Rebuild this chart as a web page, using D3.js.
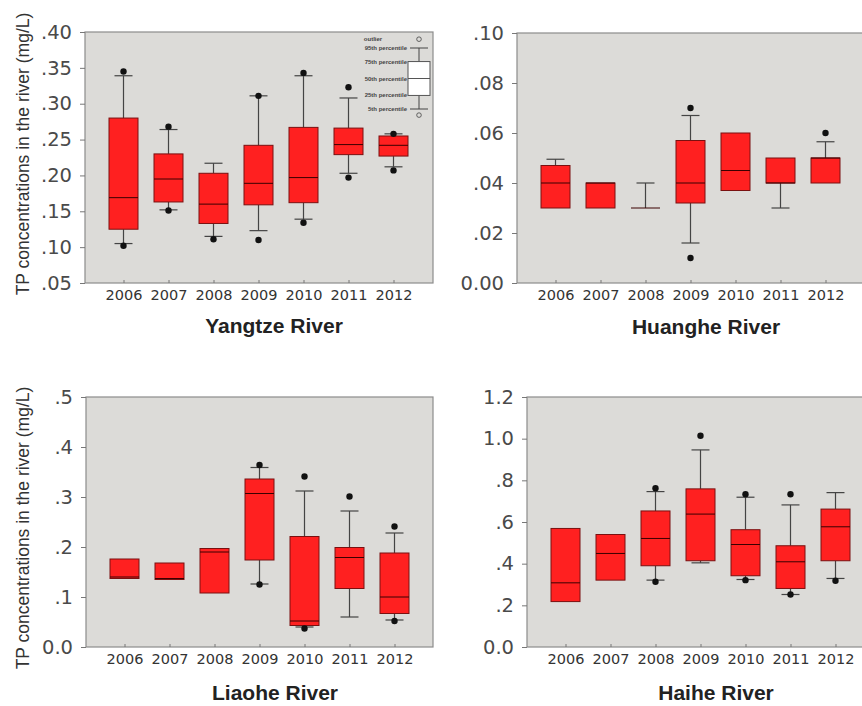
<!DOCTYPE html>
<html>
<head>
<meta charset="utf-8">
<script src="https://cdn.jsdelivr.net/npm/d3@7"></script>
<style>
  body { margin: 0; background: #fff; }
  svg { display: block; font-family: Arial, "Liberation Sans", sans-serif; }
</style>
</head>
<body>
<svg width="862" height="706"></svg>
<script>
// years on every x axis
const years = ["2006", "2007", "2008", "2009", "2010", "2011", "2012"];

// each row: [lower whisker, 25th, median, 75th, upper whisker] (null = no whisker)
const yangtzeStats = [
  [0.105, 0.125, 0.169, 0.280, 0.339],
  [0.152, 0.163, 0.195, 0.230, 0.264],
  [0.115, 0.133, 0.160, 0.203, 0.217],
  [0.123, 0.159, 0.189, 0.242, 0.311],
  [0.139, 0.162, 0.197, 0.267, 0.339],
  [0.203, 0.229, 0.243, 0.266, 0.308],
  [0.212, 0.227, 0.242, 0.255, 0.258]
];
const yangtzeOutliers = [[0.102, 0.345], [0.151, 0.268], [0.111], [0.110, 0.311], [0.134, 0.343], [0.197, 0.323], [0.207, 0.258]];

const huangheStats = [
  [null, 0.030, 0.040, 0.047, 0.0495],
  [null, 0.030, 0.040, 0.040, null],
  [null, 0.030, 0.030, 0.030, 0.040],
  [0.016, 0.032, 0.040, 0.057, 0.067],
  [null, 0.037, 0.045, 0.060, null],
  [0.030, 0.040, 0.040, 0.050, null],
  [null, 0.040, 0.050, 0.050, 0.0565]
];
const huangheOutliers = [[], [], [], [0.010, 0.070], [], [], [0.060]];

const liaoheStats = [
  [null, 0.137, 0.140, 0.176, null],
  [null, 0.135, 0.137, 0.168, null],
  [null, 0.108, 0.190, 0.197, null],
  [0.126, 0.174, 0.307, 0.336, 0.359],
  [0.040, 0.043, 0.052, 0.221, 0.312],
  [0.060, 0.117, 0.179, 0.199, 0.272],
  [0.054, 0.067, 0.100, 0.188, 0.228]
];
const liaoheOutliers = [[], [], [], [0.125, 0.364], [0.037, 0.341], [0.301], [0.052, 0.241]];

const haiheStats = [
  [null, 0.218, 0.308, 0.569, null],
  [null, 0.321, 0.449, 0.540, null],
  [0.321, 0.390, 0.521, 0.653, 0.746],
  [0.404, 0.414, 0.638, 0.759, 0.946],
  [0.324, 0.342, 0.492, 0.563, 0.719],
  [0.252, 0.281, 0.409, 0.486, 0.682],
  [0.329, 0.414, 0.577, 0.662, 0.741]
];
const haiheOutliers = [[], [], [0.313, 0.762], [1.014], [0.321, 0.733], [0.252, 0.733], [0.318]];

// y ticks
const yangtzeTicks = [0.05, 0.10, 0.15, 0.20, 0.25, 0.30, 0.35, 0.40];
const yangtzeTickLabels = [".05", ".10", ".15", ".20", ".25", ".30", ".35", ".40"];
const huangheTicks = [0, 0.02, 0.04, 0.06, 0.08, 0.10];
const huangheTickLabels = ["0.00", ".02", ".04", ".06", ".08", ".10"];
const liaoheTicks = [0, 0.1, 0.2, 0.3, 0.4, 0.5];
const liaoheTickLabels = ["0.0", ".1", ".2", ".3", ".4", ".5"];
const haiheTicks = [0, 0.2, 0.4, 0.6, 0.8, 1.0, 1.2];
const haiheTickLabels = ["0.0", ".2", ".4", ".6", ".8", "1.0", "1.2"];

// legend (sample box in percentile units)
const legendLabels = ["outlier", "95th percentile", "75th percentile", "50th percentile", "25th percentile", "5th percentile"];
const legendLevels = [108, 95, 75, 50, 25, 5];
const legendLowOutlier = -4;

const yTitle = "TP concentrations in the river (mg/L)";

const svg = d3.select("svg");

function drawPanel(p) {
  const g = svg.append("g").attr("transform", `translate(${p.left},${p.top})`);
  const x = d3.scalePoint().domain(years).range([38.5, 308.5]);
  const y = d3.scaleLinear().domain(p.domain).range([p.h, 0]);
  const boxW = 29, capW = 18;

  g.append("rect")
    .attr("width", p.w).attr("height", p.h)
    .attr("fill", "#dcdbd8")
    .attr("stroke", "#8c8c8c").attr("stroke-width", 1.2);

  // y axis
  const ya = g.append("g")
    .call(d3.axisLeft(y).tickValues(p.ticks).tickFormat((d, i) => p.labels[i]).tickSize(5).tickPadding(8));
  ya.select(".domain").remove();
  ya.selectAll("line").attr("stroke", "#777");
  ya.selectAll("text").attr("fill", "#4a4a4a")
    .style("font-family", "'DejaVu Sans', sans-serif").style("font-size", "19.5px");

  // x axis, small ticks point into the plot
  const xa = g.append("g").attr("transform", `translate(0,${p.h})`)
    .call(d3.axisBottom(x).tickSize(-3).tickPadding(7));
  xa.select(".domain").remove();
  xa.selectAll("line").attr("stroke", "#777");
  xa.selectAll("text").attr("fill", "#333")
    .style("font-family", "'DejaVu Sans', sans-serif").style("font-size", "14.5px");

  const rows = p.stats.map((s, i) => ({ year: years[i], s: s, out: p.outliers[i] }));
  const item = g.selectAll(".yr").data(rows).enter().append("g").attr("class", "yr");

  // whiskers
  item.each(function (d) {
    const sel = d3.select(this);
    const cx = x(d.year);
    [[0, 1], [4, 3]].forEach(([w, b]) => {
      if (d.s[w] == null) return;
      sel.append("line")
        .attr("x1", cx).attr("x2", cx)
        .attr("y1", y(d.s[w])).attr("y2", y(d.s[b]))
        .attr("stroke", "#444").attr("stroke-width", 1.2);
      sel.append("line")
        .attr("x1", cx - capW / 2).attr("x2", cx + capW / 2)
        .attr("y1", y(d.s[w])).attr("y2", y(d.s[w]))
        .attr("stroke", "#444").attr("stroke-width", 1.2);
    });
  });

  // boxes
  item.append("rect")
    .attr("x", d => x(d.year) - boxW / 2)
    .attr("width", boxW)
    .attr("y", d => y(d.s[3]))
    .attr("height", d => y(d.s[1]) - y(d.s[3]))
    .attr("fill", "#ff2020")
    .attr("stroke", d => (d.s[1] === d.s[3] ? "#555" : "#7a1010"))
    .attr("stroke-width", 1);

  // medians
  item.append("line")
    .attr("x1", d => x(d.year) - boxW / 2).attr("x2", d => x(d.year) + boxW / 2)
    .attr("y1", d => y(d.s[2])).attr("y2", d => y(d.s[2]))
    .attr("stroke", "#3a0000").attr("stroke-width", 1);

  // outliers
  item.selectAll("circle").data(d => d.out.map(v => ({ year: d.year, v: v })))
    .enter().append("circle")
    .attr("cx", d => x(d.year)).attr("cy", d => y(d.v))
    .attr("r", 3.2).attr("fill", "#111");

  // river name
  g.append("text")
    .attr("x", 189).attr("y", p.h + p.titleDy)
    .attr("text-anchor", "middle")
    .style("font-size", "21px").style("font-weight", "bold").attr("fill", "#222")
    .text(p.title);

  if (p.showYTitle) {
    g.append("text")
      .attr("transform", `translate(${29 - p.left},${p.h / 2 + p.yTitleShift}) rotate(-90)`)
      .attr("text-anchor", "middle")
      .style("font-size", "17.5px").attr("fill", "#333")
      .text(yTitle);
  }
  return g;
}

const p1 = drawPanel({ left: 85, top: 32, w: 348, h: 251, domain: [0.05, 0.40], ticks: yangtzeTicks, labels: yangtzeTickLabels,
  stats: yangtzeStats, outliers: yangtzeOutliers, title: "Yangtze River", titleDy: 50, showYTitle: true, yTitleShift: -3.5 });
drawPanel({ left: 517, top: 33, w: 348, h: 250, domain: [0, 0.10], ticks: huangheTicks, labels: huangheTickLabels,
  stats: huangheStats, outliers: huangheOutliers, title: "Huanghe River", titleDy: 51, showYTitle: false });
drawPanel({ left: 86, top: 397, w: 347, h: 250, domain: [0, 0.5], ticks: liaoheTicks, labels: liaoheTickLabels,
  stats: liaoheStats, outliers: liaoheOutliers, title: "Liaohe River", titleDy: 53, showYTitle: true, yTitleShift: 6 });
drawPanel({ left: 527, top: 397, w: 348, h: 250, domain: [0, 1.2], ticks: haiheTicks, labels: haiheTickLabels,
  stats: haiheStats, outliers: haiheOutliers, title: "Haihe River", titleDy: 53, showYTitle: false });

// legend inside the Yangtze panel
const lg = p1.append("g").attr("transform", "translate(334,0)");
const ly = d3.scaleLinear().domain([5, 95]).range([77, 16]);
const lx = 0;
lg.append("line").attr("x1", lx).attr("x2", lx).attr("y1", ly(5)).attr("y2", ly(95)).attr("stroke", "#444");
[5, 95].forEach(v => lg.append("line").attr("x1", lx - 9).attr("x2", lx + 9).attr("y1", ly(v)).attr("y2", ly(v)).attr("stroke", "#444"));
lg.append("rect").attr("x", lx - 11).attr("width", 22)
  .attr("y", ly(75)).attr("height", ly(25) - ly(75))
  .attr("fill", "#fff").attr("stroke", "#555");
lg.append("line").attr("x1", lx - 11).attr("x2", lx + 11).attr("y1", ly(50)).attr("y2", ly(50)).attr("stroke", "#555");
[legendLevels[0], legendLowOutlier].forEach(v => lg.append("circle").attr("cx", lx).attr("cy", ly(v)).attr("r", 2.3)
  .attr("fill", "none").attr("stroke", "#444").attr("stroke-width", 0.8));
lg.selectAll(".ll").data(legendLabels).enter().append("text")
  .attr("x", (d, i) => (i === 0 ? -46 : -12))
  .attr("y", (d, i) => ly(legendLevels[i]) + 2)
  .attr("text-anchor", (d, i) => (i === 0 ? "middle" : "end"))
  .style("font-size", "6px").style("font-weight", "bold").attr("fill", "#444")
  .text(d => d);
</script>
</body>
</html>
